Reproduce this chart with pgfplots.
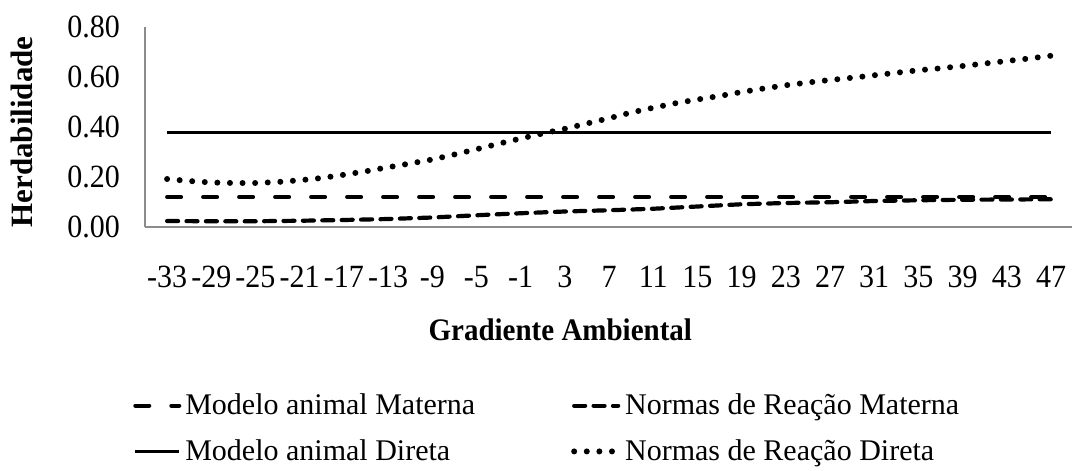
\documentclass[border=0pt]{standalone}
\usepackage{pgfplots}
\pgfplotsset{compat=1.18}
\usepackage{pgfplotstable}
\usepackage{fontspec}
\setmainfont{Liberation Serif}

% Heritability along the environmental gradient
\pgfplotstableread{
x y
-33 0.024
-29 0.023
-25 0.023
-21 0.025
-17 0.028
-13 0.032
-9 0.038
-5 0.047
-1 0.055
3 0.062
7 0.067
11 0.073
15 0.082
19 0.091
23 0.096
27 0.099
31 0.104
35 0.107
39 0.109
43 0.110
47 0.111
}\normasmaterna

\pgfplotstableread{
x y
-33 0.192
-31 0.184
-29 0.178
-27 0.176
-25 0.176
-23 0.180
-21 0.187
-19 0.196
-17 0.209
-15 0.223
-13 0.239
-11 0.254
-9 0.270
-7 0.290
-5 0.311
-3 0.333
-1 0.354
1 0.374
3 0.393
5 0.414
7 0.435
9 0.458
11 0.477
13 0.495
15 0.510
17 0.524
19 0.540
21 0.554
23 0.567
25 0.578
27 0.588
29 0.597
31 0.607
33 0.617
35 0.627
37 0.635
39 0.644
41 0.654
43 0.664
45 0.674
47 0.685
}\normasdireta

\pgfplotstableread{
x y
-33 0.12
47 0.12
}\modelomaterna

\pgfplotstableread{
x y
-33 0.378
47 0.378
}\modelodireta

\begin{document}
\begin{tikzpicture}
\path[use as bounding box] (0,0) rectangle (536pt,-235.5pt);
\begin{axis}[
  at={(72.5pt,-113.5pt)}, anchor=south west,
  scale only axis, width=463.5pt, height=100pt,
  xmin=-35, xmax=48.9, ymin=0, ymax=0.8,
  axis x line=bottom, axis y line=left,
  axis line style={-, draw=black!45, line width=0.7pt},
  major tick length=0pt,
  xtick={-33,-29,-25,-21,-17,-13,-9,-5,-1,3,7,11,15,19,23,27,31,35,39,43,47},
  xticklabels={-33,-29,-25,-21,-17,-13,-9,-5,-1,3,7,11,15,19,23,27,31,35,39,43,47},
  ytick={0,0.2,0.4,0.6,0.8},
  yticklabels={0.00,0.20,0.40,0.60,0.80},
  every tick label/.append style={font=\fontsize{15}{18}\selectfont, yscale=1.08},
  xticklabel style={anchor=center, yshift=-23pt},
  yticklabel style={anchor=east, xshift=-9pt},
  xlabel={Gradiente Ambiental},
  xlabel style={at={(axis description cs:0.448,-0.515)}, anchor=center,
    font=\fontsize{14.5}{17}\selectfont\bfseries, yscale=1.08},
  ylabel={Herdabilidade},
  ylabel style={at={(axis description cs:-0.133,0.475)}, anchor=center,
    font=\fontsize{15.5}{18}\selectfont\bfseries},
  legend columns=2,
  legend cell align=left,
  legend image code/.code={\draw[#1] (0pt,0pt) -- (22pt,0pt);},
  legend style={at={(axis description cs:0.435,-1.0075)}, anchor=center,
    draw=none, fill=none, font=\fontsize{15}{18}\selectfont,
    /tikz/every even column/.append style={column sep=46pt},
    /tikz/row sep=7pt},
]
\addplot[black, line width=2pt, line cap=round, dash pattern=on 7pt off 11pt]
  table {\modelomaterna};
\addlegendentry{Modelo animal Materna}
\addplot[black, line width=2.1pt, line cap=round, dash pattern=on 5.5pt off 4.2pt]
  table {\normasmaterna};
\addlegendentry{Normas de Reação Materna}
\addplot[black, line width=1.9pt]
  table {\modelodireta};
\addlegendentry{Modelo animal Direta}
\addplot[black, line width=3pt, line cap=round, dash pattern=on 0pt off 6.3pt]
  table {\normasdireta};
\addlegendentry{Normas de Reação Direta}
\end{axis}
\end{tikzpicture}
\end{document}
